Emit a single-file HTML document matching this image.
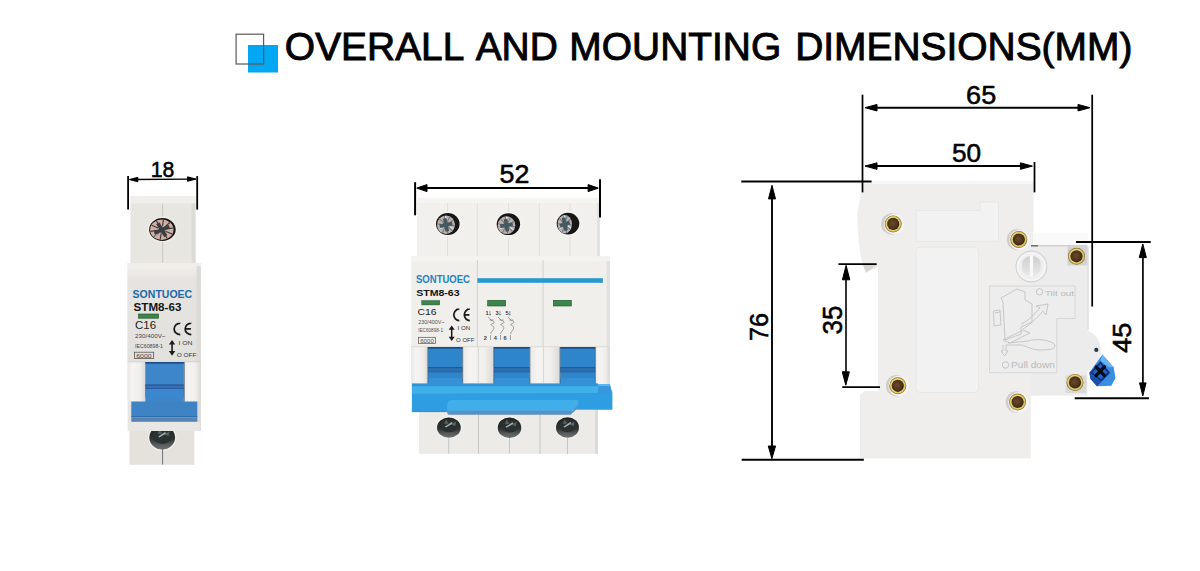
<!DOCTYPE html>
<html><head><meta charset="utf-8">
<style>
html,body{margin:0;padding:0;background:#fff;}
body{width:1200px;height:571px;overflow:hidden;position:relative;font-family:"Liberation Sans",sans-serif;}
svg{position:absolute;left:0;top:0;}
</style></head>
<body>
<svg width="1200" height="571" viewBox="0 0 1200 571" font-family="Liberation Sans, sans-serif">
<defs>
  <marker id="ah" viewBox="0 0 13 7" refX="13" refY="3.5" markerWidth="13" markerHeight="7" markerUnits="userSpaceOnUse" orient="auto-start-reverse">
    <path d="M0,0 L13,3.5 L0,7 Z" fill="#000"/>
  </marker>
  <marker id="as" viewBox="0 0 10 5" refX="10" refY="2.5" markerWidth="10" markerHeight="5" markerUnits="userSpaceOnUse" orient="auto-start-reverse">
    <path d="M0,0 L10,2.5 L0,5 Z" fill="#000"/>
  </marker>
<radialGradient id="rvg" cx="0.45" cy="0.45" r="0.6">
  <stop offset="0" stop-color="#6a4b2a"/><stop offset="0.7" stop-color="#4a3219"/><stop offset="1" stop-color="#2e1f10"/>
</radialGradient>
<linearGradient id="bsg" x1="0" y1="0" x2="0" y2="1"><stop offset="0" stop-color="#1e2222"/><stop offset="0.55" stop-color="#2e3232"/><stop offset="0.8" stop-color="#5a5d5d"/><stop offset="1" stop-color="#6e7070"/></linearGradient>
<linearGradient id="f1g" x1="0" y1="0" x2="0" y2="1"><stop offset="0" stop-color="#f1eee9"/><stop offset="0.15" stop-color="#e6e4e0"/><stop offset="1" stop-color="#e3e1de"/></linearGradient>
<linearGradient id="pg" x1="0" y1="0" x2="1" y2="0"><stop offset="0" stop-color="#e9e8e5"/><stop offset="0.25" stop-color="#f5f4f2"/><stop offset="0.7" stop-color="#f0efec"/><stop offset="1" stop-color="#d9d8d5"/></linearGradient>
<linearGradient id="kng" x1="0" y1="0" x2="0" y2="1"><stop offset="0" stop-color="#cfcfcf"/><stop offset="1" stop-color="#e9e9e9"/></linearGradient>
</defs>
<rect width="1200" height="571" fill="#fff"/>
<rect x="248" y="45" width="30" height="27.5" fill="#00a8f3"/>
<rect x="236.1" y="34.2" width="27.5" height="29.8" fill="none" stroke="#5f5858" stroke-width="1.2"/>
<g transform="scale(0.983,1)" font-size="39.6" fill="#000" stroke="#000" stroke-width="0.95">
  <text x="289.8" y="60.5">OVERALL</text>
  <text x="483.9" y="60.5">AND</text>
  <text x="579.2" y="60.5">MOUNTING</text>
  <text x="808.9" y="60.5">DIMENSIONS(MM)</text>
</g>
<g id="p1">
  <rect x="130.5" y="196" width="65" height="68" fill="#e8e6e1"/>
  <rect x="130.5" y="196" width="65" height="7.5" fill="#f0efeb"/>
  <rect x="191.5" y="203.5" width="4" height="60" fill="#dddbd6"/>
  <line x1="162.6" y1="203.5" x2="162.6" y2="263" stroke="#c2c0bb" stroke-width="0.8"/>
  <ellipse cx="162.4" cy="229.5" rx="14.9" ry="13.0" fill="#efede9"/><ellipse cx="162.4" cy="229.5" rx="13.3" ry="11.4" fill="#161616"/><ellipse cx="161.8" cy="229.7" rx="11.70" ry="10.20" fill="#d2ada1"/><line x1="165.8" y1="229.1" x2="173.1" y2="228.0" stroke="#3a3a3a" stroke-width="1.1"/><line x1="165.5" y1="231.3" x2="172.1" y2="234.1" stroke="#3a3a3a" stroke-width="1.1"/><line x1="163.7" y1="232.9" x2="167.2" y2="238.5" stroke="#3a3a3a" stroke-width="1.1"/><line x1="161.2" y1="233.2" x2="160.2" y2="239.6" stroke="#3a3a3a" stroke-width="1.1"/><line x1="159.0" y1="232.3" x2="153.8" y2="236.9" stroke="#3a3a3a" stroke-width="1.1"/><line x1="157.8" y1="230.3" x2="150.5" y2="231.4" stroke="#3a3a3a" stroke-width="1.1"/><line x1="158.1" y1="228.1" x2="151.5" y2="225.3" stroke="#3a3a3a" stroke-width="1.1"/><line x1="159.9" y1="226.5" x2="156.4" y2="220.9" stroke="#3a3a3a" stroke-width="1.1"/><line x1="162.4" y1="226.2" x2="163.4" y2="219.8" stroke="#3a3a3a" stroke-width="1.1"/><line x1="164.6" y1="227.1" x2="169.8" y2="222.5" stroke="#3a3a3a" stroke-width="1.1"/><line x1="167.5" y1="230.8" x2="172.7" y2="231.7" stroke="#a7c3cf" stroke-width="1.0"/><line x1="157.9" y1="233.5" x2="154.4" y2="236.9" stroke="#a7c3cf" stroke-width="1.0"/><line x1="160.0" y1="224.8" x2="158.4" y2="220.5" stroke="#a7c3cf" stroke-width="1.0"/><line x1="154.4" y1="233.1" x2="169.2" y2="226.3" stroke="#3a3e43" stroke-width="3.6"/><line x1="157.8" y1="223.2" x2="165.8" y2="236.2" stroke="#3a3e43" stroke-width="3.6"/><circle cx="161.8" cy="229.7" r="2.8" fill="#3a3e43"/>
  <rect x="127.6" y="263" width="73.2" height="168" fill="#e6e5e2"/>
  <rect x="127.6" y="263" width="73.2" height="4" fill="#efeeeb"/>
  <rect x="127.6" y="267" width="73.2" height="94.5" fill="url(#f1g)"/>
  <rect x="196.5" y="266" width="4.3" height="165" fill="#dcdad7"/>
  <text x="132.6" y="297.5" font-size="11.8" font-weight="bold" fill="#1c68ab" textLength="59.6" lengthAdjust="spacingAndGlyphs">SONTUOEC</text>
  <text x="133.6" y="310.5" font-size="11.2" font-weight="bold" fill="#151515" textLength="47.8" lengthAdjust="spacingAndGlyphs">STM8-63</text>
  <rect x="138.6" y="314" width="20" height="4.2" fill="#3c864b" stroke="#1d4f27" stroke-width="0.6"/>
  <text x="135" y="329.2" font-size="10.3" fill="#222" textLength="21" lengthAdjust="spacingAndGlyphs">C16</text>
  <path d="M180.12,323.07 L180.30,323.07 A6.42,5.83 0 0 0 180.30,334.72 L180.12,334.72 M191.12,323.07 L191.30,323.07 A6.42,5.83 0 0 0 191.30,334.72 L191.12,334.72 M185.05,328.90 L190.93,328.90" fill="none" stroke="#1a1a1a" stroke-width="1.75"/>
  <text x="135" y="338.4" font-size="5.4" fill="#444" textLength="30.5" lengthAdjust="spacingAndGlyphs">230/400V~</text>
  <text x="135" y="347.6" font-size="5.4" fill="#444" textLength="28" lengthAdjust="spacingAndGlyphs">IEC60898-1</text>
  <rect x="134.5" y="352.2" width="19.2" height="6.2" fill="none" stroke="#444" stroke-width="0.7"/>
  <text x="136.2" y="357.6" font-size="5" fill="#444" textLength="15.5" lengthAdjust="spacingAndGlyphs">6000</text>
  <path d="M172.05,340 L175.20000000000002,344.6 L172.85000000000002,344.6 L172.85000000000002,351.09999999999997 L175.20000000000002,351.09999999999997 L172.05,355.7 L168.9,351.09999999999997 L171.25,351.09999999999997 L171.25,344.6 L168.9,344.6 Z" fill="#1a1a1a"/>
  <text x="178.6" y="344.8" font-size="6" fill="#333" textLength="13.9" lengthAdjust="spacingAndGlyphs">I ON</text>
  <text x="176.7" y="357.3" font-size="6" fill="#333" textLength="19.7" lengthAdjust="spacingAndGlyphs">O OFF</text>
  <rect x="127.6" y="361.3" width="73.2" height="1.2" fill="#d3d2ce"/>
  <rect x="127.6" y="362.4" width="17.7" height="39.2" fill="url(#pg)"/>
  <rect x="183.8" y="362.4" width="17" height="39.2" fill="url(#pg)"/>
  <rect x="145.3" y="362" width="38.5" height="40" fill="#3d86ca"/>
  <rect x="145.3" y="362" width="38.5" height="1.8" fill="#22508f"/>
  <rect x="145.3" y="384.5" width="38.5" height="1.2" fill="#1f4d88"/>
  <rect x="145.3" y="385.7" width="38.5" height="2.4" fill="#3670b2"/>
  <rect x="145.3" y="388.1" width="38.5" height="0.9" fill="#24589a"/>
  <rect x="145.3" y="389" width="38.5" height="8" fill="#3b88d0"/>
  
  <rect x="131.3" y="401.5" width="66" height="15.5" fill="#3e84c4"/>
  <rect x="131.3" y="416.2" width="66" height="1" fill="#2b6aab"/>
  <rect x="131.3" y="417.2" width="66" height="4.6" fill="#5884b4"/>
  <rect x="183.8" y="362" width="1" height="39.5" fill="#2a3a55" opacity="0.6"/>
  <rect x="128.3" y="422" width="71.4" height="8.8" fill="#e8e7e4"/>
  <rect x="129.6" y="431" width="64.8" height="33.8" fill="#e5e2de"/>
  
  <clipPath id="c1b"><rect x="128" y="431" width="72" height="40"/></clipPath>
  <g clip-path="url(#c1b)"><ellipse cx="162.2" cy="437.5" rx="14.200000000000001" ry="13.3" fill="#f1f0ed"/><ellipse cx="162.2" cy="437.5" rx="12.9" ry="12" fill="url(#bsg)"/><ellipse cx="162.5" cy="435.5" rx="10.3" ry="8.4" fill="#2b3030"/><path d="M158.2,436.5 L165.2,432.0 L166.2,433.5 L159.2,437.5 Z" fill="#a9acac"/><path d="M164.2,434.5 L169.2,431.5 L168.7,436.0 Z" fill="#5d6363"/><path d="M159.2,429.5 L162.2,433.5 L157.7,434.0 Z" fill="#596060"/></g>
  <line x1="162.6" y1="448.7" x2="162.6" y2="464.5" stroke="#555" stroke-width="0.8"/>
</g>
<g id="p3">
  <rect x="417" y="198" width="183" height="60" fill="#f1f0ec"/>
  <rect x="417" y="198" width="183" height="5" fill="#f5f4f1"/>
  <rect x="597" y="203" width="3" height="55" fill="#e3e2de"/>
  <g stroke="#dcdad5" stroke-width="0.8">
    <line x1="447.5" y1="203" x2="447.5" y2="258"/>
    <line x1="477.3" y1="203" x2="477.3" y2="258"/>
    <line x1="508.4" y1="203" x2="508.4" y2="258"/>
    <line x1="539.3" y1="203" x2="539.3" y2="258"/>
    <line x1="570" y1="203" x2="570" y2="258"/>
  </g>
  <ellipse cx="447.8" cy="224" rx="13.4" ry="12.6" fill="#f4f3f0"/><ellipse cx="447.8" cy="224" rx="11.8" ry="11" fill="#161616"/><ellipse cx="446.0" cy="224.8" rx="9.00" ry="9.20" fill="#c0b0ac"/><line x1="449.1" y1="225.1" x2="454.8" y2="225.7" stroke="#6c7c84" stroke-width="1.1"/><line x1="448.3" y1="227.0" x2="452.6" y2="230.8" stroke="#6c7c84" stroke-width="1.1"/><line x1="446.7" y1="227.9" x2="447.8" y2="233.6" stroke="#6c7c84" stroke-width="1.1"/><line x1="444.7" y1="227.7" x2="442.4" y2="233.0" stroke="#6c7c84" stroke-width="1.1"/><line x1="443.3" y1="226.4" x2="438.4" y2="229.3" stroke="#6c7c84" stroke-width="1.1"/><line x1="442.9" y1="224.5" x2="437.2" y2="223.9" stroke="#6c7c84" stroke-width="1.1"/><line x1="443.7" y1="222.6" x2="439.4" y2="218.8" stroke="#6c7c84" stroke-width="1.1"/><line x1="445.3" y1="221.7" x2="444.2" y2="216.0" stroke="#6c7c84" stroke-width="1.1"/><line x1="447.3" y1="221.9" x2="449.6" y2="216.6" stroke="#6c7c84" stroke-width="1.1"/><line x1="448.7" y1="223.2" x2="453.6" y2="220.3" stroke="#6c7c84" stroke-width="1.1"/><line x1="450.0" y1="227.0" x2="453.5" y2="228.9" stroke="#e9eef0" stroke-width="1.0"/><line x1="442.2" y1="227.2" x2="438.7" y2="229.4" stroke="#e9eef0" stroke-width="1.0"/><line x1="445.8" y1="220.2" x2="445.7" y2="216.1" stroke="#e9eef0" stroke-width="1.0"/><line x1="439.7" y1="226.2" x2="452.3" y2="223.4" stroke="#455860" stroke-width="3.6"/><line x1="444.7" y1="218.3" x2="447.3" y2="231.3" stroke="#455860" stroke-width="3.6"/><circle cx="446.0" cy="224.8" r="2.8" fill="#455860"/>
  <ellipse cx="508.4" cy="224.2" rx="13.299999999999999" ry="12.5" fill="#f4f3f0"/><ellipse cx="508.4" cy="224.2" rx="11.7" ry="10.9" fill="#161616"/><ellipse cx="506.5" cy="225.2" rx="8.80" ry="8.90" fill="#c0b0ac"/><line x1="509.5" y1="225.7" x2="515.0" y2="226.7" stroke="#6c7c84" stroke-width="1.1"/><line x1="508.6" y1="227.4" x2="512.5" y2="231.5" stroke="#6c7c84" stroke-width="1.1"/><line x1="506.9" y1="228.3" x2="507.7" y2="233.8" stroke="#6c7c84" stroke-width="1.1"/><line x1="505.1" y1="228.0" x2="502.5" y2="232.9" stroke="#6c7c84" stroke-width="1.1"/><line x1="503.7" y1="226.6" x2="498.7" y2="229.0" stroke="#6c7c84" stroke-width="1.1"/><line x1="503.5" y1="224.7" x2="498.0" y2="223.7" stroke="#6c7c84" stroke-width="1.1"/><line x1="504.4" y1="223.0" x2="500.5" y2="218.9" stroke="#6c7c84" stroke-width="1.1"/><line x1="506.1" y1="222.1" x2="505.3" y2="216.6" stroke="#6c7c84" stroke-width="1.1"/><line x1="507.9" y1="222.4" x2="510.5" y2="217.5" stroke="#6c7c84" stroke-width="1.1"/><line x1="509.3" y1="223.8" x2="514.3" y2="221.4" stroke="#6c7c84" stroke-width="1.1"/><line x1="510.2" y1="227.6" x2="513.6" y2="229.7" stroke="#e9eef0" stroke-width="1.0"/><line x1="502.6" y1="227.3" x2="499.1" y2="229.2" stroke="#e9eef0" stroke-width="1.0"/><line x1="506.7" y1="220.8" x2="506.8" y2="216.8" stroke="#e9eef0" stroke-width="1.0"/><line x1="500.2" y1="226.1" x2="512.8" y2="224.3" stroke="#455860" stroke-width="3.6"/><line x1="505.6" y1="218.9" x2="507.4" y2="231.5" stroke="#455860" stroke-width="3.6"/><circle cx="506.5" cy="225.2" r="2.8" fill="#455860"/>
  <ellipse cx="568" cy="223.6" rx="12.9" ry="12.5" fill="#f4f3f0"/><ellipse cx="568" cy="223.6" rx="11.3" ry="10.9" fill="#161616"/><ellipse cx="564.8" cy="224.2" rx="7.10" ry="9.30" fill="#c0b2b0"/><line x1="567.3" y1="224.4" x2="571.7" y2="224.7" stroke="#6c7c84" stroke-width="1.1"/><line x1="566.7" y1="226.2" x2="570.2" y2="229.9" stroke="#6c7c84" stroke-width="1.1"/><line x1="565.4" y1="227.3" x2="566.6" y2="233.0" stroke="#6c7c84" stroke-width="1.1"/><line x1="563.9" y1="227.2" x2="562.3" y2="232.7" stroke="#6c7c84" stroke-width="1.1"/><line x1="562.7" y1="226.0" x2="559.0" y2="229.2" stroke="#6c7c84" stroke-width="1.1"/><line x1="562.3" y1="224.0" x2="557.9" y2="223.7" stroke="#6c7c84" stroke-width="1.1"/><line x1="562.9" y1="222.2" x2="559.4" y2="218.5" stroke="#6c7c84" stroke-width="1.1"/><line x1="564.2" y1="221.1" x2="563.0" y2="215.4" stroke="#6c7c84" stroke-width="1.1"/><line x1="565.7" y1="221.2" x2="567.3" y2="215.7" stroke="#6c7c84" stroke-width="1.1"/><line x1="566.9" y1="222.4" x2="570.6" y2="219.2" stroke="#6c7c84" stroke-width="1.1"/><line x1="568.0" y1="226.2" x2="570.9" y2="227.9" stroke="#e9eef0" stroke-width="1.0"/><line x1="561.9" y1="226.9" x2="559.3" y2="229.3" stroke="#e9eef0" stroke-width="1.0"/><line x1="564.5" y1="219.6" x2="564.2" y2="215.4" stroke="#e9eef0" stroke-width="1.0"/><line x1="559.9" y1="225.9" x2="569.7" y2="222.5" stroke="#455860" stroke-width="3.6"/><line x1="563.5" y1="217.7" x2="566.1" y2="230.7" stroke="#455860" stroke-width="3.6"/><circle cx="564.8" cy="224.2" r="2.8" fill="#455860"/>
  <rect x="411.2" y="256.3" width="198.7" height="131" fill="#f0efeb"/>
  <rect x="411.2" y="256.3" width="198.7" height="5" fill="#f4f3f0"/>
  <rect x="606.5" y="261" width="3.4" height="126" fill="#e2e1de"/>
  <line x1="477.4" y1="260" x2="477.4" y2="387" stroke="#d0cecb" stroke-width="0.9"/>
  <line x1="543.1" y1="260" x2="543.1" y2="387" stroke="#d0cecb" stroke-width="0.9"/>
  <rect x="477.4" y="278.2" width="125.5" height="4.6" fill="#2a97cf"/>
  <text x="416" y="282.5" font-size="10.5" font-weight="bold" fill="#2183c4" textLength="54" lengthAdjust="spacingAndGlyphs">SONTUOEC</text>
  <text x="416.2" y="296.2" font-size="9.4" font-weight="bold" fill="#151515" textLength="43.4" lengthAdjust="spacingAndGlyphs">STM8-63</text>
  <rect x="421.8" y="300.7" width="17.9" height="4.2" fill="#3c864b" stroke="#1d4f27" stroke-width="0.5"/>
  <text x="417.6" y="315.1" font-size="9" fill="#222" textLength="19" lengthAdjust="spacingAndGlyphs">C16</text>
  <path d="M459.12,308.98 L459.30,308.98 A5.83,5.83 0 0 0 459.30,320.62 L459.12,320.62 M469.62,308.98 L469.80,308.98 A5.83,5.83 0 0 0 469.80,320.62 L469.62,320.62 M464.15,314.80 L469.43,314.80" fill="none" stroke="#1a1a1a" stroke-width="1.75"/>
  <text x="418.2" y="324" font-size="4.9" fill="#555" textLength="26.5" lengthAdjust="spacingAndGlyphs">230/400V~</text>
  <text x="418.2" y="332.4" font-size="5" fill="#555" textLength="24.8" lengthAdjust="spacingAndGlyphs">IEC60898-1</text>
  <rect x="418.6" y="337.3" width="16.9" height="6.3" fill="none" stroke="#555" stroke-width="0.7"/>
  <text x="420.2" y="342.6" font-size="4.8" fill="#555" textLength="13.6" lengthAdjust="spacingAndGlyphs">6000</text>
  <path d="M451.7,325.4 L454.7,329.79999999999995 L452.45,329.79999999999995 L452.45,336.70000000000005 L454.7,336.70000000000005 L451.7,341.1 L448.7,336.70000000000005 L450.95,336.70000000000005 L450.95,329.79999999999995 L448.7,329.79999999999995 Z" fill="#1a1a1a"/>
  <text x="457.5" y="329.6" font-size="5.6" fill="#333" textLength="12.6" lengthAdjust="spacingAndGlyphs">I ON</text>
  <text x="456.1" y="342.2" font-size="5.6" fill="#333" textLength="18.3" lengthAdjust="spacingAndGlyphs">O OFF</text>
  <rect x="487.7" y="300.3" width="17.9" height="5.7" fill="#3c864b" stroke="#1d4f27" stroke-width="0.6"/>
  <rect x="553.4" y="300.3" width="17.9" height="5.7" fill="#3c864b" stroke="#1d4f27" stroke-width="0.6"/>
  <g fill="#3c3c3c" font-size="5.6" font-weight="bold">
<text x="485.6" y="315">1</text><text x="483.8" y="339.8">2</text>
<text x="495.5" y="315">3</text><text x="493.7" y="339.8">4</text>
<text x="505.4" y="315">5</text><text x="503.6" y="339.8">6</text>
</g>
  <g fill="none" stroke="#6a6a6a" stroke-width="0.6">
<path d="M490.0,311 v4 M489.0,314 l1,1.3 l1,-1.3"/>
<path d="M488.0,316.8 l3,3.2 M489.5,320 h4"/>
<path d="M491.0,320.5 c2.5,0 3,1 3,2 c0,1.2 -3,1 -3,2 v0.5 c3,1 3.5,3 2,5 c-1,1.5 -2.5,2.5 -2,4 M490.6,335 v5"/>
<path d="M499.9,311 v4 M498.9,314 l1,1.3 l1,-1.3"/>
<path d="M497.9,316.8 l3,3.2 M499.4,320 h4"/>
<path d="M500.9,320.5 c2.5,0 3,1 3,2 c0,1.2 -3,1 -3,2 v0.5 c3,1 3.5,3 2,5 c-1,1.5 -2.5,2.5 -2,4 M500.5,335 v5"/>
<path d="M509.8,311 v4 M508.8,314 l1,1.3 l1,-1.3"/>
<path d="M507.8,316.8 l3,3.2 M509.3,320 h4"/>
<path d="M510.8,320.5 c2.5,0 3,1 3,2 c0,1.2 -3,1 -3,2 v0.5 c3,1 3.5,3 2,5 c-1,1.5 -2.5,2.5 -2,4 M510.40000000000003,335 v5"/>
  </g>
  <rect x="411.2" y="346.4" width="198.7" height="1" fill="#d6d5d1"/>
  <g>
    <rect x="411.2" y="347.4" width="16.9" height="36" fill="url(#pg)"/>
    <rect x="462.4" y="347.4" width="31.6" height="36" fill="url(#pg)"/>
    <rect x="529.6" y="347.4" width="30.7" height="36" fill="url(#pg)"/>
    <rect x="595.1" y="347.4" width="14.8" height="36" fill="url(#pg)"/>
    <line x1="478.3" y1="347.4" x2="478.3" y2="383" stroke="#cfcdca" stroke-width="0.8"/>
    <line x1="543.6" y1="347.4" x2="543.6" y2="383" stroke="#cfcdca" stroke-width="0.8"/>
    <rect x="428.1" y="347" width="34.3" height="40" fill="#2f85ca"/>
    <rect x="428.1" y="347" width="34.3" height="1.6" fill="#1d4a86"/>
    <rect x="428.1" y="367.2" width="34.3" height="1.2" fill="#1f4f85"/>
    <rect x="428.1" y="368.4" width="34.3" height="3" fill="#2d6db0"/>
    <rect x="428.1" y="371.4" width="34.3" height="0.9" fill="#245a98"/>
    <rect x="428.1" y="378" width="34.3" height="9" fill="#3590d6"/>
    <rect x="427.3" y="347" width="1" height="40" fill="#2a3444" opacity="0.55"/>
    <rect x="462.20000000000005" y="347" width="1" height="40" fill="#2a3444" opacity="0.55"/>
    <rect x="494" y="347" width="35.6" height="40" fill="#2f85ca"/>
    <rect x="494" y="347" width="35.6" height="1.6" fill="#1d4a86"/>
    <rect x="494" y="367.2" width="35.6" height="1.2" fill="#1f4f85"/>
    <rect x="494" y="368.4" width="35.6" height="3" fill="#2d6db0"/>
    <rect x="494" y="371.4" width="35.6" height="0.9" fill="#245a98"/>
    <rect x="494" y="378" width="35.6" height="9" fill="#3590d6"/>
    <rect x="493.2" y="347" width="1" height="40" fill="#2a3444" opacity="0.55"/>
    <rect x="529.4" y="347" width="1" height="40" fill="#2a3444" opacity="0.55"/>
    <rect x="560.3" y="347" width="34.8" height="40" fill="#2f85ca"/>
    <rect x="560.3" y="347" width="34.8" height="1.6" fill="#1d4a86"/>
    <rect x="560.3" y="367.2" width="34.8" height="1.2" fill="#1f4f85"/>
    <rect x="560.3" y="368.4" width="34.8" height="3" fill="#2d6db0"/>
    <rect x="560.3" y="371.4" width="34.8" height="0.9" fill="#245a98"/>
    <rect x="560.3" y="378" width="34.8" height="9" fill="#3590d6"/>
    <rect x="559.5" y="347" width="1" height="40" fill="#2a3444" opacity="0.55"/>
    <rect x="594.8999999999999" y="347" width="1" height="40" fill="#2a3444" opacity="0.55"/>
    <rect x="412" y="383.4" width="186" height="3" fill="#3590d6"/>
  </g>
  <rect x="419" y="410" width="179" height="43.8" fill="#ecebe7"/>
  <rect x="595" y="410" width="3" height="43.8" fill="#dcdad6"/>
  <clipPath id="c3b"><rect x="415" y="414" width="190" height="45"/></clipPath>
  <g clip-path="url(#c3b)">
    <ellipse cx="448.9" cy="427.6" rx="13.200000000000001" ry="11.5" fill="#f1f0ed"/><ellipse cx="448.9" cy="427.6" rx="11.9" ry="10.2" fill="url(#bsg)"/><ellipse cx="449.2" cy="425.6" rx="9.3" ry="6.6" fill="#2b3030"/><path d="M444.9,426.6 L451.9,422.1 L452.9,423.6 L445.9,427.6 Z" fill="#a9acac"/><path d="M450.9,424.6 L455.9,421.6 L455.4,426.1 Z" fill="#5d6363"/><path d="M445.9,419.6 L448.9,423.6 L444.4,424.1 Z" fill="#596060"/>
    <ellipse cx="509.5" cy="427.8" rx="13.100000000000001" ry="11.5" fill="#f1f0ed"/><ellipse cx="509.5" cy="427.8" rx="11.8" ry="10.2" fill="url(#bsg)"/><ellipse cx="509.8" cy="425.8" rx="9.200000000000001" ry="6.6" fill="#2b3030"/><path d="M505.5,426.8 L512.5,422.3 L513.5,423.8 L506.5,427.8 Z" fill="#a9acac"/><path d="M511.5,424.8 L516.5,421.8 L516.0,426.3 Z" fill="#5d6363"/><path d="M506.5,419.8 L509.5,423.8 L505.0,424.3 Z" fill="#596060"/>
    <ellipse cx="567.5" cy="427.5" rx="12.8" ry="11.5" fill="#f1f0ed"/><ellipse cx="567.5" cy="427.5" rx="11.5" ry="10.2" fill="url(#bsg)"/><ellipse cx="567.8" cy="425.5" rx="8.9" ry="6.6" fill="#2b3030"/><path d="M563.5,426.5 L570.5,422.0 L571.5,423.5 L564.5,427.5 Z" fill="#a9acac"/><path d="M569.5,424.5 L574.5,421.5 L574.0,426.0 Z" fill="#5d6363"/><path d="M564.5,419.5 L567.5,423.5 L563.0,424.0 Z" fill="#596060"/>
  </g>
  <g stroke="#bdbbb7" stroke-width="0.8">
    <line x1="448.7" y1="438" x2="448.7" y2="453.8"/>
    <line x1="478.5" y1="414" x2="478.5" y2="453.8"/>
    <line x1="509.5" y1="438" x2="509.5" y2="453.8"/>
    <line x1="540" y1="414" x2="540" y2="453.8"/>
    <line x1="567.5" y1="438" x2="567.5" y2="453.8"/>
  </g>
  <path d="M411.9,386 L598,386 L598,384 L609.7,384 L612.4,392.7 L612.4,409.7 L578,409.7 L411.9,411.5 Z" fill="#2e9de1"/>
  <path d="M411.9,386.2 L598,386.2 L598,392.9 L411.9,393.7 Z" fill="#40b0ea"/>
  <path d="M598,384 L609.7,384 L611.5,392.7 L599.5,392.7 Z" fill="#3a96dd"/>
  <path d="M598,384 L609.7,384 L610.2,386 L598,386 Z" fill="#56b6ee"/>
  <path d="M447.2,405 Q447.2,400 452,400 L578,400 L578,405 L572,411 L447.2,411 Z" fill="#41aee9"/>
  <path d="M447.2,410.8 L572.5,410.8 L578,405 L578,408 L570.5,414.8 L450,414.8 Q447.2,414.8 447.2,412.5 Z" fill="#5b90c6"/>
  <line x1="411.9" y1="411.6" x2="447.2" y2="411.6" stroke="#3a7fc0" stroke-width="1"/>
</g>
<g id="side">
  <path d="M866,181.5 L1033.5,181.5 L1033.5,395.5 L1030.8,395.5 L1030.8,458.5 L860,458.5 L860,395 L864.5,391 L878,391 L878,267 L866,273 L862.5,264.5 L861.3,258 L859,245 L857.8,230 L857.3,213 L860,198 L863.5,186 Z" fill="#efeeec"/>
  <path d="M865,181.5 L1033.5,181.5 L1033.5,184 L864,184 Z" fill="#f6f6f6"/>
  <path d="M863,265 L877,265 L866,272.5 Z" fill="#d6d6d6"/>
  <path d="M916,210.6 L980,210.6 L980,202 L998.5,202 L998.5,241.4 L916,241.4 Z" fill="#f2f2f2" stroke="#e4e4e4" stroke-width="0.8"/>
  <rect x="916" y="247" width="62.5" height="145.5" rx="4" fill="#f2f2f2" stroke="#e4e4e4" stroke-width="0.8"/>
  <path d="M1033,232.5 L1088,232.5 L1088,245.5 L1033,245.5 Z" fill="#f9f9f9"/>
  <path d="M1031,245.4 L1087.4,245.4 L1087.4,330.5 A21.9,21.9 0 0 1 1087.4,371.2 L1087.4,395.5 L1031,395.5 Z" fill="#ececec"/>
  <line x1="1031" y1="245.8" x2="1087.4" y2="245.8" stroke="#c4bfb4" stroke-width="1"/><line x1="1031" y1="245.8" x2="1038" y2="245.8" stroke="#555" stroke-width="1.2"/>
  <line x1="1088" y1="246" x2="1088" y2="330" stroke="#d0d0d0" stroke-width="1"/>
  <rect x="1067.5" y="246.3" width="20" height="19.2" fill="#d3d3d3"/>
  <rect x="1065.6" y="375.4" width="21" height="17.5" fill="#d9d9d9"/>
  <circle cx="1031.4" cy="266.5" r="15.4" fill="#efefef" stroke="#d2d2d2" stroke-width="1.1"/>
  <circle cx="1031.4" cy="266.5" r="13.6" fill="none" stroke="#f8f8f8" stroke-width="1.2"/>
  <clipPath id="knc"><rect x="1022.2" y="255" width="18.5" height="22"/></clipPath>
  <ellipse cx="1031.4" cy="266" rx="10.2" ry="10.2" fill="url(#kng)" clip-path="url(#knc)"/>
  <rect x="1029.9" y="255.3" width="3.1" height="21" fill="#f9f9f9"/>
  <path d="M989.5,286 L1075,286 L1075,318.5 L1056.8,318.5 L1056.8,372.8 L989.5,372.8 Z" fill="#ededed" stroke="#d6d6d6" stroke-width="1"/>
  <g fill="none" stroke="#c2c2c2" stroke-width="0.9">
    <path d="M1001,298 L1017,289 L1025,292 L1025,300 L1032,304 L1032,322 L1021,327 L1021,334 L1005,340 L1003,302 Z"/>
    <path d="M993.5,311 L1000,310 L1001,325 L994,326 Z M995,313 L1000,312"/>
    <path d="M1021,324 C1030,320 1034,314 1040,308 L1036,306 L1048,304 L1046,315 L1043,311 C1037,318 1031,324 1023,329"/>
    <path d="M1003,340 L1023,330 L1030,333 L1010,343 Z"/>
    <path d="M1008,343 L1028,341 C1036,338 1052,340 1055,345 C1055,349 1050,350 1040,350 C1032,350 1026,346 1022,345 L1006,345"/>
    <path d="M1003,345 L1003,351 L1001,351 L1004.5,356 L1008,351 L1006,351 L1006,345"/>
    <circle cx="1005.5" cy="365" r="3.2"/>
    <circle cx="1039.5" cy="291.8" r="3.2"/>
  </g>
  <text x="1011" y="368.2" font-size="8.4" fill="#b9b9b9" textLength="44" lengthAdjust="spacingAndGlyphs">Pull down</text>
  <text x="1045" y="295.6" font-size="7.6" fill="#b9b9b9" textLength="29" lengthAdjust="spacingAndGlyphs">Tilt out</text>
  <circle cx="1096.3" cy="349.9" r="2.1" fill="#283848"/>
  <path d="M1102.4,354.6 L1113.6,367.3 L1115.5,378 L1111.3,385.8 L1097,386.2 L1090.5,379 L1089.3,372.7 Z" fill="#3a8ee2"/>
  <path d="M1102.4,354.6 L1113.6,367.3 L1109,367 L1100.5,360.7 Z" fill="#6cb5f2"/>
  <path d="M1089.3,372.7 L1101.3,382 L1097,386.2 L1090.5,379 Z" fill="#1b4ea6"/>
  <path d="M1100.5,360.7 L1110.5,372.7 L1101.3,382 L1089.3,372.7 Z" fill="#1f5dc0"/>
  <path d="M1100.4,362.8 L1108.6,372.6 L1101.2,380.4 L1091.4,372.6 Z" fill="#2563c6" stroke="#0f2f70" stroke-width="1.5"/>
  <path d="M1096.2,367 L1104.2,375.4 M1104.4,366.8 L1096,375.6" stroke="#060b18" stroke-width="3.4" stroke-linecap="round"/>
  <circle cx="891.9000000000001" cy="223.9" r="10.7" fill="#cfcecb"/><circle cx="894.1" cy="224.1" r="10.2" fill="#f6f6f5"/><circle cx="893.2" cy="223.9" r="8.5" fill="#8c7432"/><circle cx="893.2" cy="223.9" r="7.8" fill="#dcc260"/><circle cx="892.9000000000001" cy="223.6" r="7.0" fill="#e8d27a"/><circle cx="893.2" cy="223.9" r="6.1" fill="url(#rvg)"/>
  <circle cx="1017.5" cy="239.5" r="10.7" fill="#cfcecb"/><circle cx="1019.6999999999999" cy="239.7" r="10.2" fill="#f6f6f5"/><circle cx="1018.8" cy="239.5" r="8.5" fill="#8c7432"/><circle cx="1018.8" cy="239.5" r="7.8" fill="#dcc260"/><circle cx="1018.5" cy="239.2" r="7.0" fill="#e8d27a"/><circle cx="1018.8" cy="239.5" r="6.1" fill="url(#rvg)"/>
  <circle cx="1076.5" cy="256.3" r="8.5" fill="#8c7432"/><circle cx="1076.5" cy="256.3" r="7.8" fill="#dcc260"/><circle cx="1076.2" cy="256.0" r="7.0" fill="#e8d27a"/><circle cx="1076.5" cy="256.3" r="6.1" fill="url(#rvg)"/>
  <circle cx="1075" cy="382.4" r="8.5" fill="#8c7432"/><circle cx="1075" cy="382.4" r="7.8" fill="#dcc260"/><circle cx="1074.7" cy="382.09999999999997" r="7.0" fill="#e8d27a"/><circle cx="1075" cy="382.4" r="6.1" fill="url(#rvg)"/>
  <circle cx="1016.3000000000001" cy="402" r="10.7" fill="#cfcecb"/><circle cx="1018.5" cy="402.2" r="10.2" fill="#f6f6f5"/><circle cx="1017.6" cy="402" r="8.5" fill="#8c7432"/><circle cx="1017.6" cy="402" r="7.8" fill="#dcc260"/><circle cx="1017.3000000000001" cy="401.7" r="7.0" fill="#e8d27a"/><circle cx="1017.6" cy="402" r="6.1" fill="url(#rvg)"/>
  <circle cx="896.5" cy="385.8" r="10.7" fill="#cfcecb"/><circle cx="898.6999999999999" cy="386.0" r="10.2" fill="#f6f6f5"/><circle cx="897.8" cy="385.8" r="8.5" fill="#8c7432"/><circle cx="897.8" cy="385.8" r="7.8" fill="#dcc260"/><circle cx="897.5" cy="385.5" r="7.0" fill="#e8d27a"/><circle cx="897.8" cy="385.8" r="6.1" fill="url(#rvg)"/>
</g>
<g stroke="#000" fill="#000"><line x1="128.1" y1="176.1" x2="128.1" y2="209.6" stroke-width="1.8"/><line x1="197.2" y1="176.1" x2="197.2" y2="209.6" stroke-width="1.8"/><line x1="133" y1="179.5" x2="192" y2="179.1" stroke-width="1.3"/><path d="M129.30,179.55 L137.80,177.35 L137.80,181.75 Z"/><path d="M196.00,179.05 L187.50,181.25 L187.50,176.85 Z"/><line x1="415.1" y1="182.2" x2="415.1" y2="215.3" stroke-width="2"/><line x1="600" y1="179.3" x2="600" y2="217.5" stroke-width="2"/><line x1="420" y1="188" x2="596" y2="188" stroke-width="2"/><path d="M416.80,188.10 L427.00,184.60 L427.00,191.60 Z"/><path d="M598.30,188.10 L588.10,191.60 L588.10,184.60 Z"/><line x1="862.5" y1="94.7" x2="862.5" y2="192.4" stroke-width="1.75"/><line x1="1092.2" y1="94.7" x2="1092.2" y2="306.5" stroke-width="1.75"/><line x1="868" y1="107.8" x2="1087" y2="107.8" stroke-width="2"/><path d="M865.00,107.70 L877.00,104.45 L877.00,110.95 Z"/><path d="M1090.00,107.70 L1078.00,110.95 L1078.00,104.45 Z"/><line x1="1034.5" y1="162" x2="1034.5" y2="192.4" stroke-width="1.75"/><line x1="868" y1="166.1" x2="1029" y2="166.1" stroke-width="2"/><path d="M865.00,166.10 L877.00,162.85 L877.00,169.35 Z"/><path d="M1032.40,166.10 L1020.40,169.35 L1020.40,162.85 Z"/><line x1="741.3" y1="181.4" x2="871.6" y2="181.4" stroke-width="2"/><line x1="741.7" y1="459.8" x2="863.8" y2="459.8" stroke-width="1.9"/><line x1="772" y1="190" x2="772" y2="454" stroke-width="1.9"/><path d="M772.00,185.30 L775.50,198.90 L768.50,198.90 Z"/><path d="M771.90,458.60 L768.25,446.00 L775.55,446.00 Z"/><line x1="838.4" y1="264.2" x2="876.7" y2="264.2" stroke-width="1.8"/><line x1="842.2" y1="387.2" x2="880" y2="387.2" stroke-width="1.8"/><line x1="846" y1="270" x2="846" y2="381" stroke-width="1.6"/><path d="M846.10,265.40 L849.80,279.80 L842.40,279.80 Z"/><path d="M845.80,385.20 L842.25,371.80 L849.35,371.80 Z"/><line x1="1076" y1="242" x2="1150.7" y2="242" stroke-width="1.9"/><line x1="1074.7" y1="398.2" x2="1148.9" y2="398.2" stroke-width="1.9"/><line x1="1142.9" y1="250" x2="1142.9" y2="390" stroke-width="1.7"/><path d="M1142.80,243.90 L1146.35,257.60 L1139.25,257.60 Z"/><path d="M1142.80,396.00 L1139.55,382.90 L1146.05,382.90 Z"/></g>
<g fill="#000" stroke="#000" stroke-width="0.55">
  <text transform="translate(150.71,177.36) scale(0.9652,1)" font-size="22.05">18</text>
  <text transform="translate(499.50,183.38) scale(1.0253,1)" font-size="26.16">52</text>
  <text transform="translate(966.12,104.07) scale(1.0273,1)" font-size="26.30">65</text>
  <text transform="translate(952.01,162.27) scale(0.9855,1)" font-size="26.58">50</text>
  <text transform="translate(767.58,341.01) rotate(-90) scale(0.9679,1)" font-size="26.03">76</text>
  <text transform="translate(841.64,334.38) rotate(-90) scale(0.9214,1)" font-size="28.22">35</text>
  <text transform="translate(1130.97,352.87) rotate(-90) scale(1.0182,1)" font-size="26.53">45</text>
</g>
</svg>
</body></html>
